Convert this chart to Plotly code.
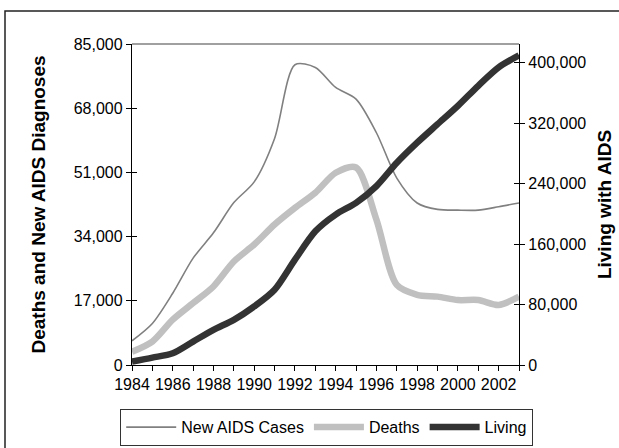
import plotly.graph_objects as go

years = list(range(1984, 2004))
new_aids_cases = [6400, 11000, 19000, 28300, 35000, 43000, 48500, 60000, 79500, 78800,
                  73500, 70400, 61500, 49500, 42900, 41200, 41000, 41000, 41900, 42900]
deaths = [3500, 6200, 12000, 16400, 20800, 27400, 31900, 37200, 41600, 45600,
          50900, 52300, 38500, 21200, 18600, 18100, 17200, 17200, 15900, 18100]
living = [4400, 9700, 15500, 31000, 46500, 59800, 77500, 99600, 139500, 177100,
          199200, 214700, 236900, 267800, 294400, 318800, 343100, 369700, 394000, 410000]

left_ticks = [0, 17000, 34000, 51000, 68000, 85000]
right_ticks = [0, 80000, 160000, 240000, 320000, 400000]
x_tickvals = years
x_ticktext = [str(y) if (y - 1984) % 2 == 0 else "" for y in years]

FONT = "Liberation Sans, Arial, sans-serif"
TICKFONT = dict(family=FONT, size=16, color="black")

fig = go.Figure()
fig.add_trace(go.Scatter(x=years, y=new_aids_cases, name="New AIDS Cases", mode="lines",
                         line=dict(color="#808080", width=1.6, shape="spline", smoothing=0.8),
                         yaxis="y"))
fig.add_trace(go.Scatter(x=years, y=deaths, name="Deaths", mode="lines",
                         line=dict(color="#c0c0c0", width=6.5, shape="spline", smoothing=0.8),
                         yaxis="y"))
fig.add_trace(go.Scatter(x=years, y=living, name="Living", mode="lines",
                         line=dict(color="#333333", width=6.5, shape="spline", smoothing=0.8),
                         yaxis="y2"))

W, H = 619, 448
L, R, T, B = 132, 100, 44, 83
pw, ph = W - L - R, H - T - B

def px(x):
    return (x - L) / pw

def py(y):
    return (H - B - y) / ph

common = dict(showgrid=False, zeroline=False, automargin=False)

fig.update_layout(
    template="none",
    width=W, height=H,
    margin=dict(l=L, r=R, t=T, b=B, autoexpand=False),
    paper_bgcolor="white", plot_bgcolor="white",
    font=dict(family=FONT, size=16, color="black"),
    showlegend=True,
    legend=dict(orientation="h", xref="paper", yref="paper",
                x=px(120), y=py(409), xanchor="left", yanchor="top",
                bordercolor="#333333", borderwidth=1.2, bgcolor="white",
                font=dict(family=FONT, size=16, color="black"),
                itemwidth=50, tracegroupgap=0),
    xaxis=dict(range=[1984, 2003], tickmode="array", tickvals=x_tickvals, ticktext=x_ticktext,
               ticks="outside", ticklen=5, tickcolor="black", showline=True, linecolor="black",
               linewidth=1.3, tickfont=TICKFONT, **common),
    yaxis=dict(range=[0, 85000], tickmode="array", tickvals=left_ticks,
               ticktext=[f"{v:,}" for v in left_ticks], ticks="outside", ticklen=5,
               tickcolor="black", showline=True, linecolor="black", linewidth=1.3,
               tickfont=TICKFONT,
               title=dict(text="<b>Deaths and New AIDS Diagnoses</b>", font=dict(size=19, family=FONT),
                          standoff=23), **common),
    yaxis2=dict(range=[0, 425000], overlaying="y", side="right", tickmode="array",
                tickvals=right_ticks, ticktext=[f"{v:,}" for v in right_ticks],
                ticks="outside", ticklen=5, tickcolor="black", showline=True,
                linecolor="black", linewidth=1.3, tickfont=TICKFONT,
                title=dict(text="<b>Living with AIDS</b>", font=dict(size=19, family=FONT),
                           standoff=12), **common),
    yaxis3=dict(range=[0, 85000], overlaying="y", side="left", tickmode="array",
                tickvals=left_ticks, showticklabels=False, ticks="inside", ticklen=5,
                tickcolor="black", showline=False, **common),
    yaxis4=dict(range=[0, 425000], overlaying="y", side="right", tickmode="array",
                tickvals=right_ticks, showticklabels=False, ticks="inside", ticklen=5,
                tickcolor="black", showline=False, **common),
    shapes=[
        dict(type="line", xref="paper", yref="paper", x0=0, x1=1, y0=1, y1=1,
             line=dict(color="#808080", width=1.5)),
        dict(type="rect", xref="paper", yref="paper", x0=px(5), x1=px(640), y0=py(11), y1=py(470),
             line=dict(color="#222222", width=1.5), fillcolor="rgba(0,0,0,0)", layer="below"),
    ],
)
fig.add_trace(go.Scatter(x=[1984], y=[0], yaxis="y3", showlegend=False, mode="markers",
                         marker=dict(opacity=0), hoverinfo="skip"))
fig.add_trace(go.Scatter(x=[1984], y=[0], yaxis="y4", showlegend=False, mode="markers",
                         marker=dict(opacity=0), hoverinfo="skip"))

fig.write_html("out.html", config={"displayModeBar": False},
               post_script="document.body.style.margin='0';")
